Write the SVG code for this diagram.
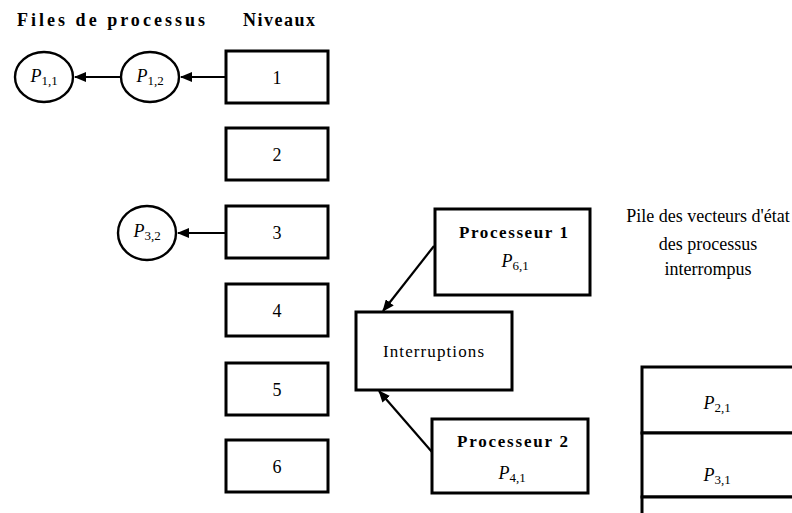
<svg xmlns="http://www.w3.org/2000/svg" width="792" height="513" viewBox="0 0 792 513">
  <style>
    .box { fill: #fff; stroke: #000; stroke-width: 3; }
    .circ { fill: #fff; stroke: #000; stroke-width: 2.4; }
    .edge { fill: none; stroke: #000; stroke-width: 2.2; }
    text { font-family: "Liberation Serif", "DejaVu Serif", serif; fill: #000; }
    .head { font-size: 18px; font-weight: bold; }
    .lbl { font-size: 18px; text-anchor: middle; }
    .proc { font-size: 17px; font-weight: bold; }
    .sm { font-size: 16px; text-anchor: middle; }
    .note { font-size: 18px; text-anchor: middle; }
    .p { font-style: italic; font-size: 18px; }
    .sub { font-size: 13px; font-style: normal; }
  </style>
  <defs>
    <marker id="arrow" markerWidth="12" markerHeight="10" refX="11" refY="5" orient="auto" markerUnits="userSpaceOnUse">
      <path d="M0,0 L12,5 L0,10 Z" fill="#000"/>
    </marker>
  </defs>
  <rect width="792" height="513" fill="#fff"/>

  <!-- column headings -->
  <text class="head" x="17" y="26" textLength="188" lengthAdjust="spacing">Files de processus</text>
  <text class="head" x="243" y="26" textLength="72" lengthAdjust="spacing">Niveaux</text>

  <!-- priority levels -->
  <g id="niveau1"><rect class="box" x="226" y="51" width="102" height="52"/><text class="lbl" x="277" y="84">1</text></g>
  <g id="niveau2"><rect class="box" x="226" y="128" width="102" height="52"/><text class="lbl" x="277" y="161">2</text></g>
  <g id="niveau3"><rect class="box" x="226" y="206" width="102" height="52"/><text class="lbl" x="277" y="239">3</text></g>
  <g id="niveau4"><rect class="box" x="226" y="284" width="102" height="52"/><text class="lbl" x="277" y="317">4</text></g>
  <g id="niveau5"><rect class="box" x="226" y="363" width="102" height="52"/><text class="lbl" x="277" y="396">5</text></g>
  <g id="niveau6"><rect class="box" x="226" y="440" width="102" height="52"/><text class="lbl" x="277" y="473">6</text></g>

  <!-- queued processes -->
  <g id="p11"><ellipse class="circ" cx="44" cy="77" rx="29" ry="25"/><text class="sm" x="44" y="82"><tspan class="p">P</tspan><tspan class="sub" dy="3">1,1</tspan></text></g>
  <g id="p12"><ellipse class="circ" cx="150" cy="77" rx="29" ry="25"/><text class="sm" x="150" y="82"><tspan class="p">P</tspan><tspan class="sub" dy="3">1,2</tspan></text></g>
  <g id="p32"><ellipse class="circ" cx="147" cy="233" rx="29" ry="27"/><text class="sm" x="147" y="237"><tspan class="p">P</tspan><tspan class="sub" dy="3">3,2</tspan></text></g>

  <!-- processors and interrupt unit -->
  <g id="processeur1">
    <rect class="box" x="435" y="209" width="155" height="86"/>
    <text class="proc" x="459" y="238" textLength="109" lengthAdjust="spacing">Processeur 1</text>
    <text class="sm" x="515" y="267"><tspan class="p">P</tspan><tspan class="sub" dy="3">6,1</tspan></text>
  </g>
  <g id="interruptions">
    <rect class="box" x="356" y="312" width="156" height="78"/>
    <text class="sm" x="383" y="357" textLength="101" lengthAdjust="spacing" style="text-anchor:start;font-size:17px">Interruptions</text>
  </g>
  <g id="processeur2">
    <rect class="box" x="432" y="419" width="156" height="74"/>
    <text class="proc" x="457" y="447" textLength="111" lengthAdjust="spacing">Processeur 2</text>
    <text class="sm" x="512" y="479"><tspan class="p">P</tspan><tspan class="sub" dy="3">4,1</tspan></text>
  </g>

  <!-- saved state vectors -->
  <g id="pile-titre">
    <text class="note" x="708" y="222">Pile des vecteurs d'état</text>
    <text class="note" x="708" y="250">des processus</text>
    <text class="note" x="708" y="275">interrompus</text>
  </g>
  <g id="pile">
    <rect class="box" x="642" y="367" width="170" height="66"/>
    <rect class="box" x="642" y="433" width="170" height="64"/>
    <rect class="box" x="642" y="497" width="170" height="40"/>
    <text class="sm" x="717" y="409"><tspan class="p" font-size="16">P</tspan><tspan class="sub" dy="3">2,1</tspan></text>
    <text class="sm" x="717" y="481"><tspan class="p" font-size="16">P</tspan><tspan class="sub" dy="3">3,1</tspan></text>
  </g>

  <!-- connectors -->
  <g id="connecteurs">
    <line class="edge" x1="226" y1="77" x2="181" y2="77" marker-end="url(#arrow)"/>
    <line class="edge" x1="121" y1="77" x2="75" y2="77" marker-end="url(#arrow)"/>
    <line class="edge" x1="226" y1="233" x2="178" y2="233" marker-end="url(#arrow)"/>
    <line class="edge" x1="434" y1="246" x2="383" y2="311" marker-end="url(#arrow)"/>
    <line class="edge" x1="432" y1="452" x2="379" y2="391" marker-end="url(#arrow)"/>
  </g>
</svg>
